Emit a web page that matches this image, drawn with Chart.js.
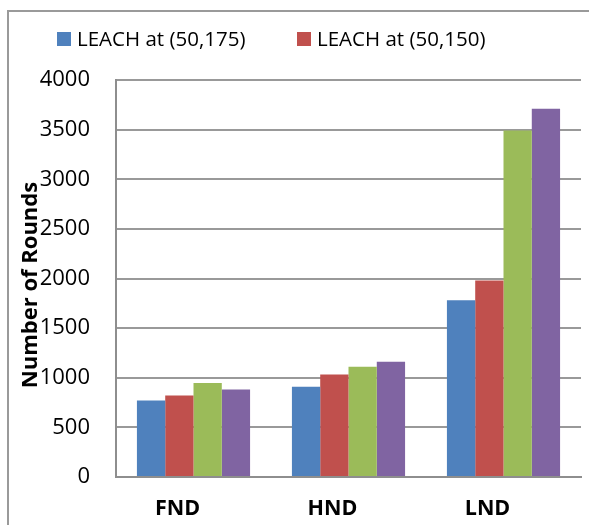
<!DOCTYPE html>
<html>
<head>
<meta charset="utf-8">
<script src="https://cdn.jsdelivr.net/npm/chart.js@4/dist/chart.umd.min.js"></script>
<style>
html,body{margin:0;padding:0;background:#fff;}
#wrap{width:589px;height:525px;position:relative;}
</style>
</head>
<body>
<div id="wrap"><canvas id="c" width="589" height="525"></canvas></div>
<script>
const categories = ['FND', 'HND', 'LND'];
const seriesNames = ['LEACH at (50,175)', 'LEACH at (50,150)', 'LEACH at (50,125)', 'LEACH at (50,100)'];
const leach175 = [770, 909, 1780];
const leach150 = [821, 1033, 1980];
const leach125 = [946, 1111, 3490];
const leach100 = [882, 1162, 3710];
const yTicks = [0, 500, 1000, 1500, 2000, 2500, 3000, 3500, 4000];
const legendShown = 2;

const colors = ['#4F81BD', '#C0504D', '#9BBB59', '#8064A2'];
const FONT = '"Open Sans", Lato, sans-serif';

const frame = {
  id: 'frame',
  beforeDraw(chart) {
    const ctx = chart.ctx;
    ctx.save();
    ctx.fillStyle = '#fff';
    ctx.fillRect(0, 0, chart.width, chart.height);
    ctx.strokeStyle = '#9a9a9a';
    ctx.lineWidth = 2;
    ctx.strokeRect(8, 11, 800, 800);
    ctx.restore();
  },
  afterDraw(chart) {
    const ctx = chart.ctx;
    ctx.save();
    // y-axis title
    ctx.translate(37, 285);
    ctx.rotate(-Math.PI / 2);
    ctx.font = 'bold 22px ' + FONT;
    ctx.fillStyle = '#000';
    ctx.textAlign = 'center';
    ctx.textBaseline = 'alphabetic';
    ctx.fillText('Number of Rounds', 0, 0);
    ctx.restore();
    // legend (first entries)
    ctx.save();
    ctx.font = '20.5px ' + FONT;
    ctx.textBaseline = 'middle';
    const xs = [57, 297];
    for (let i = 0; i < legendShown; i++) {
      const ds = chart.data.datasets[i];
      ctx.fillStyle = ds.backgroundColor;
      ctx.fillRect(xs[i], 32, 14, 14);
      ctx.fillStyle = '#000';
      ctx.fillText(ds.label, xs[i] + 20, 40);
    }
    ctx.restore();
  }
};

const data = {
  labels: categories,
  datasets: [leach175, leach150, leach125, leach100].map((vals, i) => ({
    label: seriesNames[i],
    data: vals,
    backgroundColor: colors[i],
    borderWidth: 0,
    categoryPercentage: 0.73,
    barPercentage: 1.0
  }))
};

new Chart(document.getElementById('c'), {
  type: 'bar',
  data,
  plugins: [frame],
  options: {
    responsive: false,
    animation: false,
    devicePixelRatio: 1,
    layout: { padding: { left: 0, top: 80, right: 8, bottom: 0 } },
    plugins: {
      legend: { display: false },
      title: { display: false },
      tooltip: { enabled: false }
    },
    scales: {
      x: {
        grid: { display: false, drawTicks: false },
        border: { display: true, color: '#8e8e8e', width: 2 },
        ticks: { font: { family: FONT, size: 21.5, weight: 'bold' }, color: '#000', padding: 19, labelOffset: -16 },
        afterFit(scale) { scale.height = 48; }
      },
      y: {
        min: 0, max: 4000,
        afterBuildTicks(scale) { scale.ticks = yTicks.map(v => ({ value: v })); },
        grid: { color: '#999999', lineWidth: 2, drawTicks: false },
        border: { display: true, color: '#8e8e8e', width: 2 },
        ticks: { font: { family: FONT, size: 22 }, color: '#000', padding: 26, callback: v => String(v) },
        afterFit(scale) { scale.width = 116; }
      }
    }
  }
});
</script>
</body>
</html>
